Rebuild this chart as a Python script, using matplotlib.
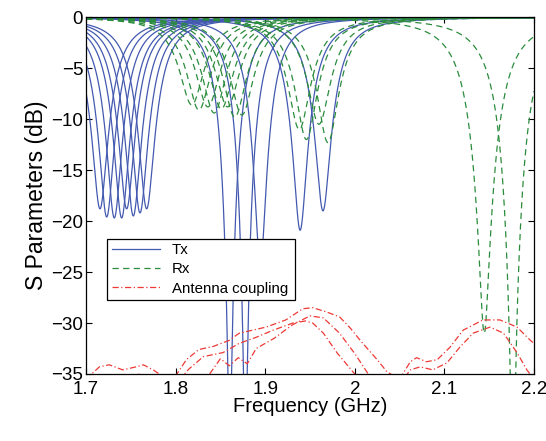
"""Tx / Rx reflection and antenna coupling versus frequency."""

import matplotlib
matplotlib.use("Agg")
import matplotlib.pyplot as plt
import numpy as np

BLUE = "#4359b0"
GREEN = "#2a8c3c"
RED = "#ee3a36"

# Tx resonances: centre (GHz), minimum (dB), half width (GHz)
TX_F0 = [1.7156, 1.7231, 1.7316, 1.7398, 1.7454, 1.7528, 1.7603, 1.7677,
         1.8604, 1.8778, 1.8946, 1.9390, 1.9645]
TX_MIN = [-18.8, -19.6, -19.7, -19.7, -18.8, -19.5, -19.2, -18.8,
          -42.0, -42.0, -24.5, -20.9, -19.0]
TX_BW = [0.021, 0.021, 0.021, 0.021, 0.021, 0.021, 0.021, 0.021,
         0.020, 0.020, 0.020, 0.021, 0.021]

# Rx resonances
RX_F0 = [1.818, 1.826, 1.836, 1.843, 1.851, 1.858, 1.866, 1.874,
         1.938, 1.946, 1.960, 1.970, 2.1445, 2.1765]
RX_MIN = [-8.6, -9.1, -8.8, -9.4, -9.0, -8.8, -9.8, -9.6,
          -11.0, -12.0, -10.5, -12.3, -31.0, -45.0]
RX_BW = [0.022, 0.022, 0.022, 0.022, 0.022, 0.022, 0.022, 0.022,
         0.022, 0.022, 0.022, 0.022, 0.028, 0.027]

# Antenna coupling traces
C1_F = [1.700, 1.715, 1.726, 1.741, 1.756, 1.764, 1.775, 1.790, 1.800, 1.812,
        1.826, 1.842, 1.860, 1.871, 1.886, 1.901, 1.923, 1.942, 1.953, 1.968,
        1.983, 1.995, 2.006, 2.025, 2.036, 2.050, 2.062, 2.069, 2.080, 2.092,
        2.106, 2.121, 2.143, 2.162, 2.181, 2.196, 2.200]
C1_DB = [-35.5, -34.3, -34.1, -34.6, -34.3, -34.1, -34.6, -35.5, -35.2, -33.6,
         -32.6, -32.3, -31.7, -31.0, -30.7, -30.4, -29.7, -28.6, -28.5, -28.9,
         -29.4, -30.5, -31.7, -33.6, -34.8, -35.5, -33.8, -33.4, -33.8, -33.6,
         -32.4, -30.7, -29.7, -29.7, -30.4, -31.7, -32.0]
C2_F = [1.700, 1.720, 1.740, 1.760, 1.780, 1.800, 1.815, 1.831, 1.853, 1.871,
        1.890, 1.909, 1.931, 1.945, 1.953, 1.965, 1.980, 1.998, 2.010, 2.050,
        2.062, 2.073, 2.087, 2.103, 2.117, 2.132, 2.151, 2.166, 2.181, 2.192,
        2.200]
C2_DB = [-36.0, -35.2, -35.5, -35.0, -36.0, -36.0, -34.5, -33.3, -32.9, -32.0,
         -31.4, -30.7, -30.0, -29.8, -30.0, -31.0, -32.9, -34.8, -36.0, -36.0,
         -34.6, -34.3, -34.6, -33.9, -32.4, -31.0, -30.4, -31.0, -32.9, -34.6,
         -35.5]
C3_F = [1.830, 1.850, 1.860, 1.870, 1.880, 1.890, 1.910, 1.930, 1.950, 1.965,
        1.983, 2.000, 2.015, 2.030]
C3_DB = [-36.0, -33.5, -34.2, -33.4, -34.0, -32.5, -31.5, -30.2, -29.3, -29.5,
         -31.0, -33.0, -35.0, -36.0]


def resonance_db(freq, f0, min_db, bw):
    floor = 10 ** (min_db / 20)
    u = (freq - f0) / bw
    mag = 1 - (1 - floor) / (1 + u ** 2)
    return 20 * np.log10(mag)


def main():
    plt.rcParams.update({
        "font.family": ["Liberation Sans", "DejaVu Sans"],
        "xtick.direction": "in",
        "ytick.direction": "in",
        "xtick.top": True,
        "ytick.right": True,
    })
    freq = np.linspace(1.7, 2.2, 3001)

    fig = plt.figure(figsize=(5.46, 4.41), dpi=100)
    ax = fig.add_axes([0.1575, 0.152, 0.8205, 0.809])

    for i, (f0, m, bw) in enumerate(zip(TX_F0, TX_MIN, TX_BW)):
        ax.plot(freq, resonance_db(freq, f0, m, bw), color=BLUE, lw=0.9,
                label="Tx" if i == 0 else None)
    for i, (f0, m, bw) in enumerate(zip(RX_F0, RX_MIN, RX_BW)):
        ax.plot(freq, resonance_db(freq, f0, m, bw), color=GREEN, lw=0.9,
                ls=(0, (5, 3.5)), label="Rx" if i == 0 else None)
    for i, (f, db) in enumerate(((C1_F, C1_DB), (C2_F, C2_DB), (C3_F, C3_DB))):
        ax.plot(f, db, color=RED, lw=0.9, ls=(0, (5, 2, 1, 2)),
                label="Antenna coupling" if i == 0 else None)

    ax.set_xlim(1.7, 2.2)
    ax.set_ylim(-35, 0)
    ax.set_xticks([1.7, 1.8, 1.9, 2.0, 2.1, 2.2])
    ax.set_xticklabels(["1.7", "1.8", "1.9", "2", "2.1", "2.2"])
    ax.set_yticks(np.arange(-35, 1, 5))
    ax.tick_params(labelsize=13.5, length=4, width=0.8)
    ax.tick_params(axis="x", pad=5)
    ax.tick_params(axis="y", pad=2)
    for spine in ax.spines.values():
        spine.set_linewidth(0.9)
    ax.set_xlabel("Frequency (GHz)", fontsize=14.5, labelpad=-1)
    ax.set_ylabel("S Parameters (dB)", fontsize=16.5, labelpad=2)

    leg = ax.legend(loc="lower left", bbox_to_anchor=(0.047, 0.207, 0.42, 0.202),
                    mode="expand", fontsize=10.8, handlelength=3.2,
                    borderaxespad=0, fancybox=False, framealpha=1,
                    edgecolor="black", labelspacing=0.35, borderpad=0.3)
    leg.get_frame().set_linewidth(0.9)

    fig.savefig("out.png", dpi=100)


if __name__ == "__main__":
    main()
